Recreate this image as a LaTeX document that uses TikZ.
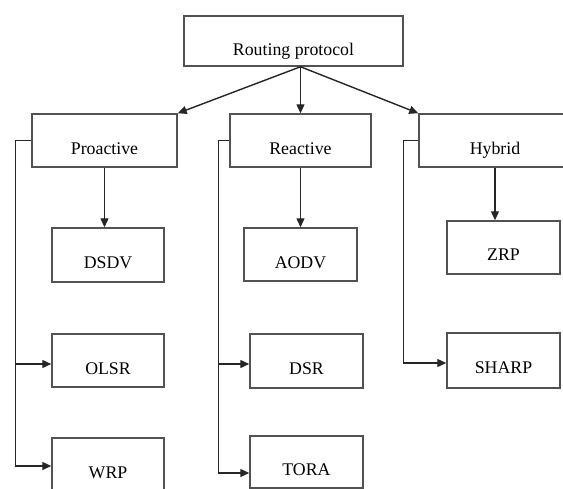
\documentclass[tikz,border=0pt]{standalone}
\usepackage{fontspec}
\setmainfont{Liberation Serif}
\usetikzlibrary{arrows.meta}
\begin{document}
\begin{tikzpicture}[x=1pt,y=-1pt,
  box/.style={draw=black!68, line width=1.5pt, inner sep=0pt, anchor=base,
    font=\fontsize{17.8pt}{20pt}\selectfont},
  arr/.style={draw=black!85, line width=1.4pt, -{Triangle[length=9pt,width=8pt]}},
  ln/.style={draw=black!85, line width=1.4pt}]
\clip (0,0) rectangle (563,488);
\fill[white] (0,0) rectangle (563,488);
% boxes
\node[box, minimum width=219pt, text height=39pt, text depth=11pt] (root) at (293.5,55) {Routing protocol};
\node[box, minimum width=145pt, text height=40pt, text depth=13pt] (pro) at (104.5,154) {Proactive};
\node[box, minimum width=141pt, text height=40pt, text depth=13pt] (react) at (300.5,154) {Reactive};
\node[box, minimum width=152pt, text height=40pt, text depth=13pt] (hyb) at (495,154) {Hybrid};
\node[box, minimum width=112pt, text height=40pt, text depth=14pt] (dsdv) at (108,268) {DSDV};
\node[box, minimum width=112pt, text height=40pt, text depth=13pt] (olsr) at (108,374) {OLSR};
\node[box, minimum width=112pt, text height=40pt, text depth=13pt] (wrp) at (108,478) {WRP};
\node[box, minimum width=113pt, text height=40pt, text depth=13pt] (aodv) at (300.5,268) {AODV};
\node[box, minimum width=113pt, text height=40pt, text depth=14pt] (dsr) at (306.5,374) {DSR};
\node[box, minimum width=113pt, text height=39pt, text depth=13pt] (tora) at (306.5,475) {TORA};
\node[box, minimum width=113pt, text height=39pt, text depth=14pt] (zrp) at (503.5,260) {ZRP};
\node[box, minimum width=113pt, text height=40pt, text depth=15pt] (sharp) at (503.5,373) {SHARP};
% top arrows
\coordinate (rs) at (root.south -| react.north);
\draw[arr] (rs) -- (pro.north east);
\draw[arr] (rs) -- (react.north -| rs);
\draw[arr] (rs) -- (hyb.north west);
% down arrows
\draw[arr] (pro.south) -- (pro.south |- dsdv.north);
\draw[arr] (react.south) -- (react.south |- aodv.north);
\draw[arr] (hyb.south) -- (hyb.south |- zrp.north);
% side lines
\coordinate (pl) at ([xshift=-16pt]pro.west);
\draw[ln] (pro.west) -- (pl);
\draw[arr] (pl) |- ([yshift=-3.5pt]olsr.west);
\draw[arr] (pl) |- ([yshift=-1.5pt]wrp.west);
\coordinate (rl) at ([xshift=-11pt]react.west);
\draw[ln] (react.west) -- (rl);
\draw[arr] (rl) |- ([yshift=-3pt]dsr.west);
\draw[arr] (rl) |- ([yshift=-11pt]tora.west);
\coordinate (hl) at ([xshift=-15pt]hyb.west);
\draw[ln] (hyb.west) -- (hl);
\draw[arr] (hl) |- ([yshift=-2.5pt]sharp.west);
\end{tikzpicture}
\end{document}
